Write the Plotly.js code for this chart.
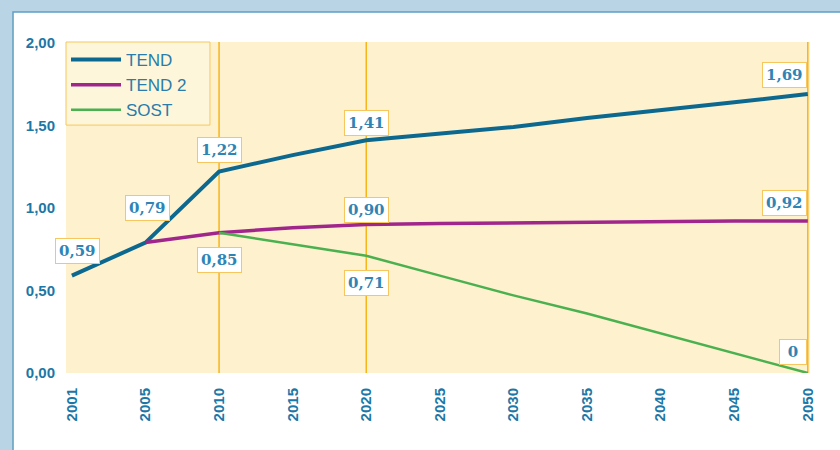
<!DOCTYPE html>
<html><head><meta charset="utf-8">
<script src="https://cdn.plot.ly/plotly-3.0.1.min.js"></script>
<style>html,body{margin:0;padding:0;background:#b9d4e5;}</style>
</head><body><div id="chart" style="width:840px;height:450px;"></div>
<script>
const years = ['2001','2005','2010','2015','2020','2025','2030','2035','2040','2045','2050'];
const tend  = [0.59, 0.79, 1.22, 1.32, 1.41, 1.45, 1.49, 1.545, 1.59, 1.64, 1.69];
const tend2 = [null, 0.79, 0.85, 0.88, 0.90, 0.905, 0.91, 0.91, 0.915, 0.92, 0.92];
const sost  = [null, null, 0.85, 0.78, 0.71, 0.59, 0.47, 0.36, 0.24, 0.12, 0];
const markerYears = ['2010','2020','2050'];
const yTicks = [0, 0.5, 1, 1.5, 2];
// value labels: [year, value, text, xshift, yshift]
const labels = [
  ['2001', 0.59, '0,59', 6, 25],
  ['2005', 0.79, '0,79', 2, 35],
  ['2010', 1.22, '1,22', 0, 22],
  ['2010', 0.85, '0,85', 0, -27],
  ['2020', 1.41, '1,41', 0, 17],
  ['2020', 0.90, '0,90', 0, 14],
  ['2020', 0.71, '0,71', 0, -27],
  ['2050', 1.69, '1,69', -23, 19],
  ['2050', 0.92, '0,92', -23, 18],
  ['2050', 0, '0', -15, 21]
];

const idx = y => years.indexOf(y);

const traces = [
  {x: years, y: tend, name: 'TEND', mode: 'lines', line: {color: '#0d6890', width: 4}},
  {x: years, y: tend2, name: 'TEND 2', mode: 'lines', line: {color: '#a1268c', width: 3.5}},
  {x: years, y: sost, name: 'SOST', mode: 'lines', line: {color: '#4bb04f', width: 2.5}}
];

const shapes = [
  {type: 'rect', xref: 'paper', yref: 'paper', x0: -0.0712, x1: 1.1, y0: -0.4, y1: 1.0906,
   fillcolor: '#ffffff', line: {color: '#5f9fc2', width: 1.5}, layer: 'below'},
  {type: 'rect', xref: 'paper', yref: 'paper', x0: 0, x1: 1, y0: 0, y1: 1,
   fillcolor: '#fdf2cd', line: {width: 0}, layer: 'below'},
  {type: 'rect', xref: 'paper', yref: 'paper', x0: 0, x1: 0.1935, y0: 0.749, y1: 1,
   fillcolor: '#fdf6da', line: {color: '#f7c65e', width: 1}, layer: 'below'}
];
markerYears.forEach(yv => shapes.push({type: 'line', xref: 'x', yref: 'paper', x0: idx(yv), x1: idx(yv), y0: 0, y1: 1,
  line: {color: '#f6b51c', width: 1.5}, layer: 'below'}));

const annotations = labels.map(l => ({
  x: idx(l[0]), y: l[1], text: l[2], xref: 'x', yref: 'y', showarrow: false,
  xshift: l[3], yshift: l[4],
  width: l[2].length < 2 ? 20 : undefined,
  font: {family: 'DejaVu Serif, serif', size: 15, color: '#2f84b6', weight: 'bold'},
  bgcolor: '#ffffff', bordercolor: '#f7c65e', borderwidth: 1, borderpad: 3
}));

const layout = {
  width: 840, height: 450,
  margin: {l: 66, r: 30, t: 42, b: 77},
  paper_bgcolor: '#b9d4e5',
  plot_bgcolor: 'rgba(0,0,0,0)',
  separators: ', ',
  showlegend: true,
  legend: {x: 0, y: 1, xanchor: 'left', yanchor: 'top', bgcolor: 'rgba(0,0,0,0)',
    borderwidth: 0, itemwidth: 50,
    font: {family: 'Liberation Sans, Arial, sans-serif', size: 17, color: '#2a7cab'}},
  xaxis: {type: 'category', categoryorder: 'array', categoryarray: years,
    range: [-0.08, 10.03], showgrid: false, zeroline: false, showline: false, ticks: '',
    tickangle: -90, ticklabelstandoff: 11,
    tickfont: {family: 'Liberation Sans, Arial, sans-serif', size: 15, color: '#1c77a6', weight: 'bold'}},
  yaxis: {range: [0, 2.005], tickvals: yTicks, tickformat: '.2f', showgrid: false, zeroline: false,
    showline: false, ticks: '', ticklabelstandoff: 10,
    tickfont: {family: 'Liberation Sans, Arial, sans-serif', size: 15, color: '#1c77a6', weight: 'bold'}},
  shapes: shapes,
  annotations: annotations
};
Plotly.newPlot('chart', traces, layout, {displayModeBar: false, staticPlot: true});
</script></body></html>
